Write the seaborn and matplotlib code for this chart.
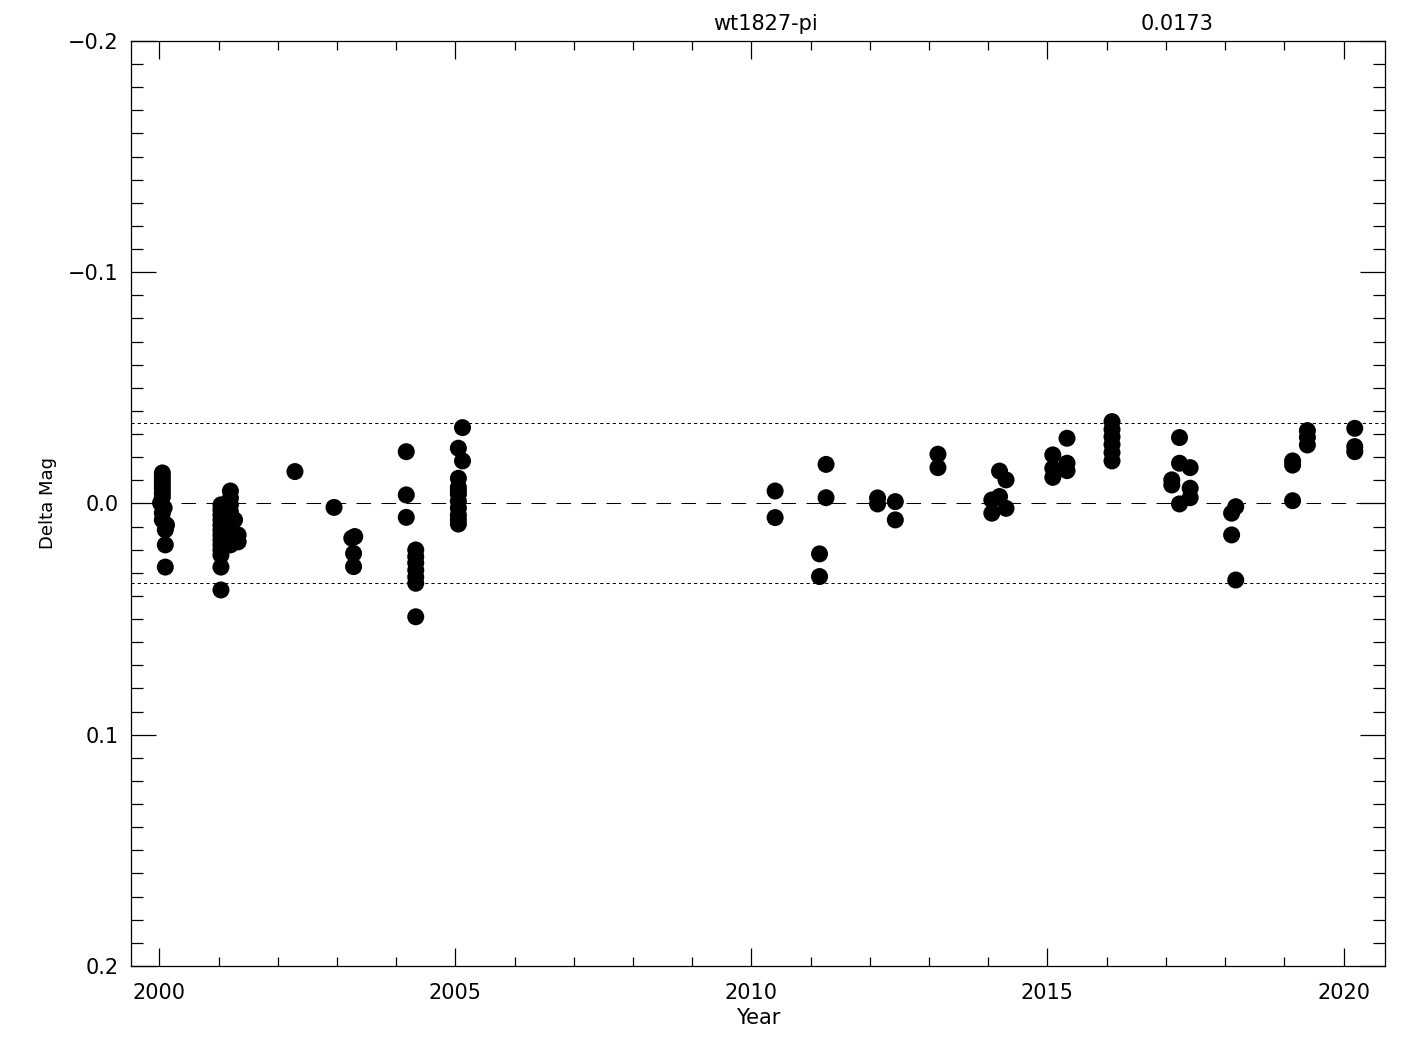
import numpy as np
import pandas as pd
import matplotlib
matplotlib.use('Agg')
import matplotlib.pyplot as plt
import seaborn as sb
from matplotlib.ticker import MultipleLocator
#
# Data read off the light curve (year of observation, delta magnitude)
star_name = 'wt1827-pi'
sigma = 0.0173
obs_year = [
    2000.05, 2000.05, 2000.05, 2000.05, 2000.05, 2000.05, 2000.05, 2000.02, 2000.08, 2000.05,
    2000.05, 2000.12, 2000.10, 2000.10, 2000.10,
    2001.04, 2001.04, 2001.04, 2001.04, 2001.04, 2001.04, 2001.04, 2001.04, 2001.04, 2001.04,
    2001.04, 2001.04, 2001.04,
    2001.20, 2001.20, 2001.20, 2001.20, 2001.20, 2001.20, 2001.20,
    2001.33, 2001.33, 2001.27,
    2002.29, 2002.95,
    2003.25, 2003.30, 2003.28, 2003.28,
    2004.17, 2004.17, 2004.17,
    2004.33, 2004.33, 2004.33, 2004.33, 2004.33, 2004.33, 2004.33,
    2005.05, 2005.05, 2005.05, 2005.05, 2005.05, 2005.05, 2005.05, 2005.05, 2005.05, 2005.05,
    2005.12, 2005.12,
    2010.40, 2010.40,
    2011.15, 2011.15, 2011.26, 2011.26,
    2012.13, 2012.13, 2012.43, 2012.43,
    2013.15, 2013.15,
    2014.19, 2014.30, 2014.06, 2014.19, 2014.30, 2014.06,
    2015.09, 2015.09, 2015.09, 2015.33, 2015.33, 2015.33,
    2016.09, 2016.09, 2016.09, 2016.09, 2016.09, 2016.09,
    2017.10, 2017.10, 2017.23, 2017.23, 2017.23, 2017.41, 2017.41, 2017.41,
    2018.11, 2018.11, 2018.18, 2018.18,
    2019.14, 2019.14, 2019.14, 2019.39, 2019.39, 2019.39,
    2020.19, 2020.19, 2020.19,
]
delta_mag = [
    -0.0132, -0.0115, -0.0097, -0.0080, -0.0063, -0.0045, -0.0028, -0.0002, 0.0019, 0.0041,
    0.0071, 0.0093, 0.0114, 0.0179, 0.0275,
    0.0006, 0.0028, 0.0050, 0.0071, 0.0093, 0.0115, 0.0136, 0.0158, 0.0179, 0.0201,
    0.0223, 0.0275, 0.0374,
    -0.0054, -0.0024, 0.0006, 0.0037, 0.0071, 0.0115, 0.0179,
    0.0136, 0.0166, 0.0071,
    -0.0138, 0.0017,
    0.0150, 0.0143, 0.0216, 0.0273,
    -0.0224, -0.0037, 0.0060,
    0.0201, 0.0230, 0.0257, 0.0288, 0.0318, 0.0345, 0.0490,
    -0.0239, -0.0109, -0.0070, -0.0040, -0.0010, 0.0020, 0.0050, 0.0070, 0.0089, -0.0055,
    -0.0328, -0.0184,
    -0.0054, 0.0061,
    0.0218, 0.0316, -0.0169, -0.0025,
    -0.0024, 0.0002, -0.0008, 0.0071,
    -0.0213, -0.0155,
    -0.0140, -0.0102, -0.0015, -0.0030, 0.0021, 0.0042,
    -0.0210, -0.0152, -0.0113, -0.0282, -0.0174, -0.0142,
    -0.0354, -0.0320, -0.0288, -0.0255, -0.0220, -0.0184,
    -0.0102, -0.0080, -0.0285, -0.0174, 0.0002, -0.0155, -0.0066, -0.0025,
    0.0042, 0.0136, 0.0014, 0.0331,
    -0.0184, -0.0166, -0.0012, -0.0315, -0.0286, -0.0253,
    -0.0325, -0.0246, -0.0224,
]
df = pd.DataFrame({'Year': obs_year, 'Delta Mag': delta_mag})
#
# Plot
sb.set_style('ticks')
plt.rcParams['font.family'] = ['DejaVu Sans']
plt.rcParams['text.color'] = 'black'
plt.rcParams['axes.labelcolor'] = 'black'
fig = plt.figure(figsize=(14.25, 10.5), dpi=100)
ax = fig.add_axes([0.0919, 0.080, 0.880, 0.881])
sb.scatterplot(data=df, x='Year', y='Delta Mag', color='black', s=150, edgecolor='none', ax=ax, zorder=3)
#
# zero line and +/- 2 sigma limits
ax.axhline(0.0, color='black', lw=0.75, linestyle=(0, (14, 10)))
ax.axhline(2 * sigma, color='black', lw=0.75, linestyle=(0, (3, 3)))
ax.axhline(-2 * sigma, color='black', lw=0.75, linestyle=(0, (3, 3)))
#
ax.set_xlim(1999.52, 2020.70)
ax.set_ylim(0.2, -0.2)
ax.xaxis.set_major_locator(MultipleLocator(5))
ax.xaxis.set_minor_locator(MultipleLocator(1))
ax.yaxis.set_minor_locator(MultipleLocator(0.01))
ax.set_yticks([-0.2, -0.1, 0.0, 0.1, 0.2])
ax.set_yticklabels(['\u22120.2', '\u22120.1', '0.0', '0.1', '0.2'])
ax.tick_params(axis='both', which='both', direction='in', top=True, right=True, width=0.9,
               colors='black', labelcolor='black', labelsize=15)
ax.tick_params(axis='x', which='major', length=13, pad=12)
ax.tick_params(axis='x', which='minor', length=6.5)
ax.tick_params(axis='y', which='major', length=18, pad=9)
ax.tick_params(axis='y', which='minor', length=8.6)
for sp in ax.spines.values():
    sp.set_linewidth(0.9)
    sp.set_color('black')
ax.set_xlabel('Year', fontsize=15, labelpad=4, color='black')
ax.set_ylabel('Delta Mag', fontsize=13, labelpad=8, color='black')
#
# header texts above the frame
fig.text(765 / 1425, 1 - 24 / 1050, star_name, ha='center', va='center', fontsize=15, color='black')
fig.text(1177 / 1425, 1 - 24 / 1050, '%.4f' % sigma, ha='center', va='center', fontsize=15, color='black')
#
fig.savefig('out.png', dpi=100, facecolor='white')
